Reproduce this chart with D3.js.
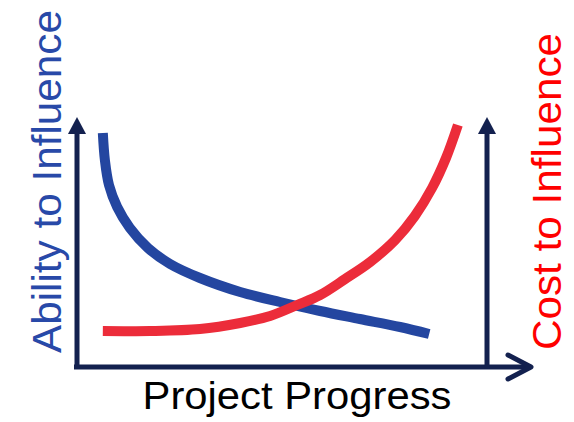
<!DOCTYPE html>
<html>
<head>
<meta charset="utf-8">
<script src="https://cdn.jsdelivr.net/npm/d3@7"></script>
<style>
html,body{margin:0;padding:0;background:#fff;}
svg{display:block;}
text{font-family:"Liberation Sans",Arial,sans-serif;}
</style>
</head>
<body>
<svg id="chart" width="574" height="422"></svg>
<script>
// Project progress (0-100) vs. relative level (0-100)
const abilityX = [6.3, 6.8, 7.8, 9.8, 12.9, 17.3, 22.7, 30.0, 39.8, 49.5, 59.3, 69.0, 78.8, 85.9];
const abilityY = [93.6, 82.8, 72.8, 64.0, 55.6, 47.6, 41.2, 35.6, 30.0, 26.0, 22.4, 19.2, 16.0, 13.2];
const costX = [6.3, 17.8, 30.0, 39.8, 47.1, 53.7, 59.3, 65.4, 71.5, 77.6, 82.4, 86.6, 90.0, 92.9];
const costY = [14.4, 14.4, 15.2, 17.6, 20.4, 24.8, 28.8, 35.2, 42.0, 50.8, 60.4, 71.6, 83.6, 96.8];
const labels = {x: "Project Progress", left: "Ability to Influence", right: "Cost to Influence"};

const svg = d3.select("#chart");
const x = d3.scaleLinear().domain([0, 100]).range([77, 487]);
const y = d3.scaleLinear().domain([0, 100]).range([367, 117]);

const axisColor = "#13214f";
const blue = "#2446a0";
const red = "#ec2c3a";

// axes
const g = svg.append("g");
g.append("line").attr("x1", x(0) - 3).attr("x2", 531).attr("y1", y(0)).attr("y2", y(0))
  .attr("stroke", axisColor).attr("stroke-width", 5);
g.append("path").attr("d", `M508,355 L531,${y(0)} L508,379`)
  .attr("fill", "none").attr("stroke", axisColor).attr("stroke-width", 5)
  .attr("stroke-linecap", "round").attr("stroke-linejoin", "round");
[x(0), x(100)].forEach(px => {
  g.append("line").attr("x1", px).attr("x2", px).attr("y1", y(0) + 2).attr("y2", y(100) + 14)
    .attr("stroke", axisColor).attr("stroke-width", 5);
  g.append("path").attr("d", `M${px},${y(100)} L${px + 9},${y(100) + 17} L${px - 9},${y(100) + 17} Z`)
    .attr("fill", axisColor);
});

const line = d3.line().x(d => x(d[0])).y(d => y(d[1])).curve(d3.curveCatmullRom.alpha(0.5));

svg.append("path").datum(abilityX.map((v, i) => [v, abilityY[i]]))
  .attr("d", line).attr("fill", "none").attr("stroke", blue).attr("stroke-width", 10);
svg.append("path").datum(costX.map((v, i) => [v, costY[i]]))
  .attr("d", line).attr("fill", "none").attr("stroke", red).attr("stroke-width", 10);

// labels
svg.append("text").attr("x", 297).attr("y", 409).attr("text-anchor", "middle")
  .attr("font-size", 38).attr("fill", "#000")
  .attr("textLength", 309).attr("lengthAdjust", "spacingAndGlyphs").text(labels.x);
svg.append("text").attr("transform", "translate(61,181.5) rotate(-90)").attr("text-anchor", "middle")
  .attr("font-size", 40).attr("fill", "#2849a8")
  .attr("textLength", 343).attr("lengthAdjust", "spacingAndGlyphs").text(labels.left);
svg.append("text").attr("transform", "translate(561,191.5) rotate(-90)").attr("text-anchor", "middle")
  .attr("font-size", 40).attr("fill", "#ff0000")
  .attr("textLength", 317).attr("lengthAdjust", "spacingAndGlyphs").text(labels.right);
</script>
</body>
</html>
